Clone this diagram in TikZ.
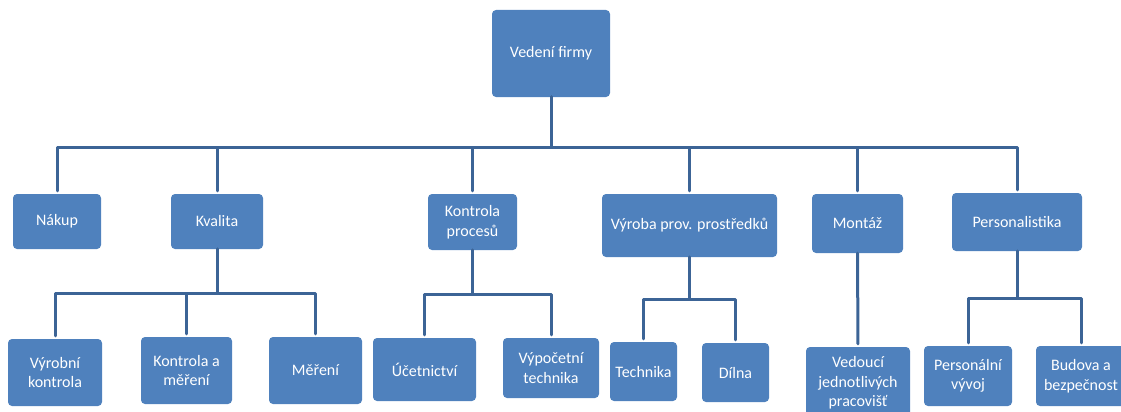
\documentclass[tikz,border=0pt]{standalone}
\usepackage{fontspec}
\setmainfont{Carlito}
\usepackage{tikz}
\usetikzlibrary{arrows}
\definecolor{boxblue}{RGB}{79,129,189}
\definecolor{lineblue}{RGB}{60,100,150}

\begin{document}
\begin{tikzpicture}[line cap=round,line join=round,x=1pt,y=-1pt,
  box/.style={rectangle,rounded corners=4pt,fill=boxblue,text=white,align=center,inner sep=0pt,font=\fontsize{16}{19.5}\selectfont},
  conn/.style={color=lineblue,line width=3pt,shorten >=3pt}]
\useasboundingbox (0,0) rectangle (1121,412);
\clip (0,0) rectangle (1121,412);
% top
\node[box,minimum width=118pt,minimum height=87pt] (vedeni) at (551,53.5) {Vedení firmy};
% first level
\node[box,minimum width=88pt,minimum height=55pt] (nakup) at (57,221.5) {Nákup};
\node[box,minimum width=92pt,minimum height=55pt] (kvalita) at (217,221.5) {Kvalita};
\node[box,minimum width=89pt,minimum height=56pt] (kontrola) at (472.5,222) {Kontrola\\procesů};
\node[box,minimum width=175pt,minimum height=63pt] (vyroba) at (689.5,225.5) {Výroba prov. prostředků};
\node[box,minimum width=91pt,minimum height=59pt] (montaz) at (857.5,223.5) {Montáž};
\node[box,minimum width=130pt,minimum height=58pt] (personal) at (1017,222) {Personalistika};
% second level
\node[box,minimum width=94pt,minimum height=67pt] (vyrkontrola) at (55,372.5) {Výrobní\\kontrola};
\node[box,minimum width=91pt,minimum height=67pt] (kontrmereni) at (186.5,370.5) {Kontrola a\\měření};
\node[box,minimum width=93pt,minimum height=67pt] (mereni) at (315.5,370.5) {Měření};
\node[box,minimum width=103pt,minimum height=63pt] (ucetnictvi) at (424.5,369.5) {Účetnictví};
\node[box,minimum width=96pt,minimum height=60pt] (vyptechnika) at (551,368) {Výpočetní\\technika};
\node[box,minimum width=67pt,minimum height=59pt] (technika) at (643.5,371.5) {Technika};
\node[box,minimum width=67pt,minimum height=59pt] (dilna) at (735.5,372.5) {Dílna};
\node[box,minimum width=104pt,minimum height=72pt] (vedouci) at (858,383) {Vedoucí\\jednotlivých\\pracovišť};
\node[box,minimum width=88pt,minimum height=60pt] (persvyvoj) at (968,376) {Personální\\vývoj};
\node[box,minimum width=90pt,minimum height=60pt] (budova) at (1081,376) {Budova a\\bezpečnost};
% bar heights
\coordinate (b0) at (0,147);
\coordinate (b1) at (0,293);
\coordinate (b2) at (0,294);
\coordinate (b3) at (0,299);
\coordinate (b5) at (0,298);
% connectors
\foreach \n in {nakup,kvalita,kontrola,vyroba,montaz,personal}
\draw[conn] (vedeni.south) -- (vedeni.south |- b0) -| (\n.north);
\foreach \n in {vyrkontrola,kontrmereni,mereni}
\draw[conn] (kvalita.south) -- (kvalita.south |- b1) -| (\n.north);
\foreach \n in {ucetnictvi,vyptechnika}
\draw[conn] (kontrola.south) -- (kontrola.south |- b2) -| (\n.north);
\foreach \n in {technika,dilna}
\draw[conn] (vyroba.south) -- (vyroba.south |- b3) -| (\n.north);
\draw[conn] (montaz.south) -- (vedouci.north);
\foreach \n in {persvyvoj,budova}
\draw[conn] (personal.south) -- (personal.south |- b5) -| (\n.north);

\end{tikzpicture}
\end{document}
